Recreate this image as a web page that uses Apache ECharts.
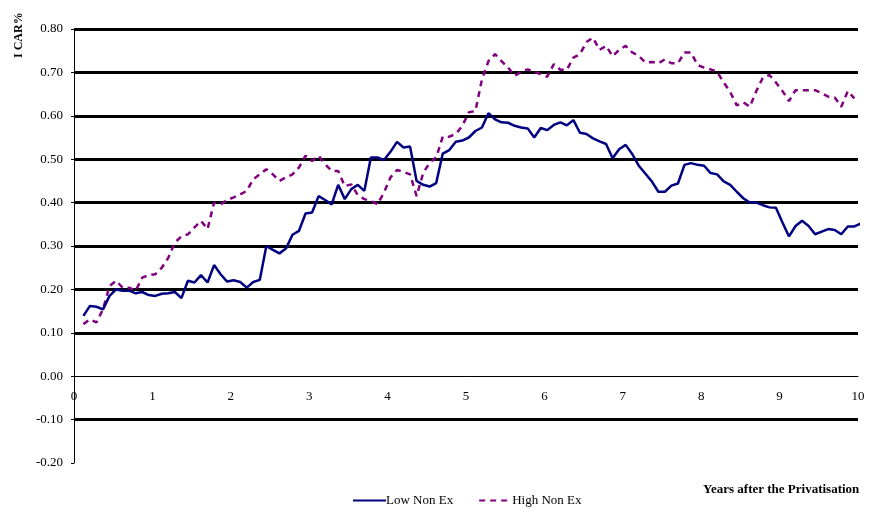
<!DOCTYPE html>
<html>
<head>
<meta charset="utf-8">
<script src="https://cdn.jsdelivr.net/npm/echarts@6/dist/echarts.min.js"></script>
<style>html,body{margin:0;padding:0;background:#fff}#c{width:870px;height:513px}</style>
</head>
<body>
<div id="c"></div>
<script>
// Monthly observations, first at ~0.12 years after privatisation
const startYear = 0.12;
const stepYear = 1 / 12;
const lowNonEx = [0.139,0.162,0.160,0.154,0.185,0.200,0.197,0.197,0.191,0.194,
  0.187,0.185,0.190,0.191,0.194,0.180,0.220,0.216,0.233,0.216,
  0.256,0.235,0.218,0.221,0.217,0.204,0.217,0.222,0.300,0.291,
  0.283,0.294,0.326,0.335,0.375,0.377,0.415,0.406,0.396,0.441,
  0.408,0.431,0.441,0.427,0.504,0.504,0.498,0.517,0.540,0.527,
  0.529,0.450,0.441,0.437,0.445,0.513,0.521,0.540,0.543,0.550,
  0.565,0.573,0.606,0.592,0.585,0.584,0.577,0.573,0.571,0.550,
  0.572,0.567,0.579,0.585,0.578,0.590,0.561,0.558,0.548,0.541,
  0.535,0.502,0.523,0.533,0.512,0.485,0.467,0.449,0.425,0.425,
  0.439,0.444,0.487,0.491,0.487,0.485,0.468,0.465,0.449,0.441,
  0.425,0.410,0.400,0.400,0.394,0.389,0.388,0.354,0.322,0.346,
  0.358,0.346,0.327,0.333,0.339,0.337,0.327,0.345,0.345,0.352];
const highNonEx = [0.120,0.131,0.124,0.154,0.208,0.220,0.204,0.204,0.197,0.227,
  0.233,0.235,0.250,0.273,0.308,0.322,0.327,0.343,0.358,0.339,
  0.400,0.396,0.406,0.412,0.419,0.427,0.454,0.465,0.477,0.465,
  0.450,0.458,0.465,0.481,0.508,0.496,0.508,0.488,0.473,0.473,
  0.438,0.442,0.417,0.408,0.404,0.396,0.423,0.458,0.475,0.471,
  0.465,0.415,0.468,0.492,0.504,0.552,0.552,0.558,0.577,0.608,
  0.611,0.684,0.726,0.742,0.726,0.711,0.692,0.701,0.707,0.701,
  0.696,0.690,0.719,0.706,0.706,0.734,0.742,0.770,0.780,0.752,
  0.761,0.737,0.752,0.761,0.746,0.738,0.723,0.724,0.721,0.730,
  0.721,0.721,0.746,0.746,0.717,0.711,0.707,0.701,0.677,0.655,
  0.624,0.631,0.621,0.657,0.688,0.694,0.677,0.657,0.634,0.659,
  0.659,0.659,0.659,0.652,0.644,0.642,0.621,0.657,0.640];
const seriesNames = ['Low Non Ex', 'High Non Ex'];
const yTicks = {min: -0.2, max: 0.8, interval: 0.1};
const xTicks = {min: 0, max: 10, interval: 1};
const xTitle = 'Years after the Privatisation';
const yTitle = 'I CAR%';

function pairs(arr){ return arr.map((v,i)=>[startYear + i*stepYear, v]); }

const serif = '"Liberation Serif","Times New Roman",serif';
const gridTop = 29, gridBottom = 50, H = 513;
const plotH = H - gridTop - gridBottom;
// shift the x axis (line and labels) up from the bottom to the zero level
const zeroOffset = -plotH * (0 - yTicks.min) / (yTicks.max - yTicks.min);
const chart = echarts.init(document.getElementById('c'), null, {renderer:'canvas'});
// split line colours, from min (-0.20) upward: none at -0.20 and 0.00 (axis line there)
const splitColors = ['rgba(0,0,0,0)','#000','rgba(0,0,0,0)','#000','#000','#000','#000','#000','#000','#000','#000'];
chart.setOption({
  animation: false,
  backgroundColor: '#fff',
  grid: {left: 74, right: 12, top: gridTop, bottom: gridBottom, containLabel: false},
  xAxis: {
    type: 'value', min: xTicks.min, max: xTicks.max, interval: xTicks.interval,
    offset: zeroOffset,
    axisLine: {onZero: false, lineStyle: {color: '#000', width: 1}},
    axisTick: {show: false},
    axisLabel: {color: '#000', fontFamily: serif, fontSize: 13, margin: 14},
    splitLine: {show: false}
  },
  yAxis: {
    type: 'value', min: yTicks.min, max: yTicks.max, interval: yTicks.interval,
    axisLine: {show: true, lineStyle: {color: '#000', width: 1}},
    axisTick: {show: true, length: 3, lineStyle: {color: '#000'}},
    axisLabel: {color: '#000', fontFamily: serif, fontSize: 13, margin: 11,
      formatter: v => v.toFixed(2)},
    splitLine: {show: true, lineStyle: {color: splitColors, width: 3}}
  },
  legend: {
    left: 347, bottom: 1, itemWidth: 33, itemHeight: 10, itemGap: 25,
    itemStyle: {opacity: 0},
    textStyle: {fontFamily: serif, fontSize: 13, color: '#000', padding: [0,0,0,-5]},
    data: seriesNames
  },
  graphic: [
    {type: 'text', left: 703, top: 483, style: {text: xTitle, font: 'bold 13px ' + serif, fill: '#000'}},
    {type: 'text', x: 13, y: 58, rotation: Math.PI/2, style: {text: yTitle, font: 'bold 12px ' + serif, fill: '#000'}}
  ],
  series: [
    {name: seriesNames[0], type: 'line', data: pairs(lowNonEx), symbol: 'none', z: 3,
      lineStyle: {color: '#000080', width: 2.5}, itemStyle: {color: '#000080'}},
    {name: seriesNames[1], type: 'line', data: pairs(highNonEx), symbol: 'none', z: 2,
      lineStyle: {color: '#800080', width: 2.5, type: [6,5]}, itemStyle: {color: '#800080'}}
  ]
});
</script>
</body>
</html>
